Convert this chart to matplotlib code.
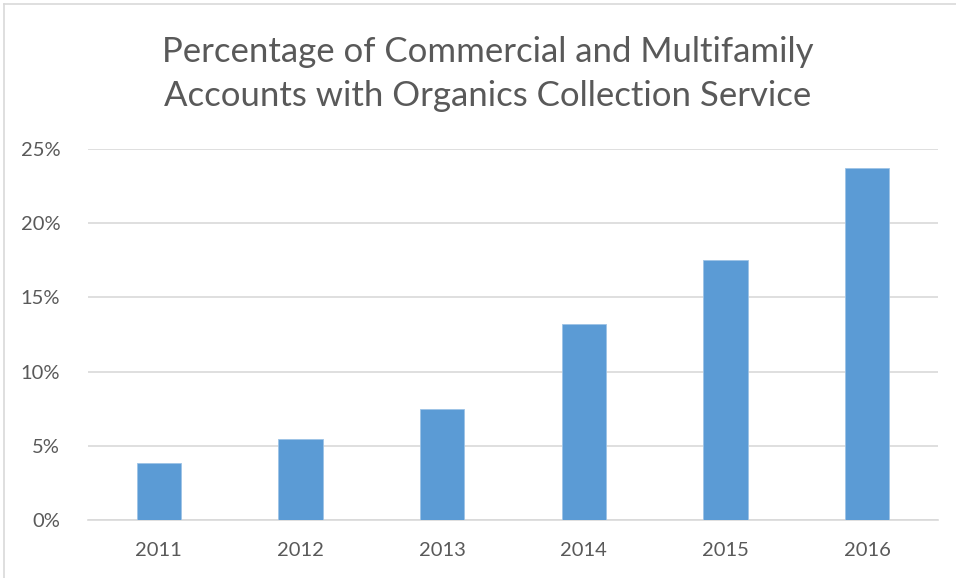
import matplotlib
matplotlib.use("Agg")
import matplotlib.pyplot as plt
from matplotlib.ticker import FuncFormatter, MultipleLocator
from matplotlib.lines import Line2D

years = ["2011", "2012", "2013", "2014", "2015", "2016"]
share = [0.0382, 0.0546, 0.0746, 0.1319, 0.1750, 0.2370]

title = "Percentage of Commercial and Multifamily\nAccounts with Organics Collection Service"
text_color = "#595959"
bar_color = "#5b9bd5"
grid_color = "#d9d9d9"

plt.rcParams["font.family"] = ["Lato", "DejaVu Sans"]

fig = plt.figure(figsize=(9.56, 5.78), dpi=100)
ax = fig.add_axes([88 / 956, 1 - 520 / 578, (938 - 88) / 956, (520 - 149) / 578])

x = range(len(years))
ax.bar(x, share, width=0.315, color=bar_color, edgecolor="#9dc3e6", linewidth=0.6, zorder=3)

ax.set_xlim(-0.5, len(years) - 0.5)
ax.set_ylim(0, 0.25)
ax.yaxis.set_major_locator(MultipleLocator(0.05))
ax.yaxis.set_major_formatter(FuncFormatter(lambda v, _: f"{v * 100:.0f}%"))
ax.set_xticks(list(x))
ax.set_xticklabels(years)

ax.grid(axis="y", color=grid_color, linewidth=1.2, zorder=0)
for side in ("top", "right", "left"):
    ax.spines[side].set_visible(False)
ax.spines["bottom"].set_color(grid_color)
ax.spines["bottom"].set_linewidth(1.2)
ax.tick_params(axis="both", length=0, labelsize=14.5, labelcolor=text_color)
ax.tick_params(axis="y", pad=20)
ax.tick_params(axis="x", pad=16)

fig.text(0.51, 1 - 74 / 578, title, ha="center", va="center", fontsize=25,
         color=text_color, linespacing=1.5)

# chart frame edges
fig.add_artist(Line2D([4 / 956, 1], [1 - 4 / 578, 1 - 4 / 578], transform=fig.transFigure,
                      color="#d9d9d9", linewidth=1.2))
fig.add_artist(Line2D([4 / 956, 4 / 956], [0, 1 - 4 / 578], transform=fig.transFigure,
                      color="#d9d9d9", linewidth=1.2))

fig.savefig("out.png", dpi=100)
